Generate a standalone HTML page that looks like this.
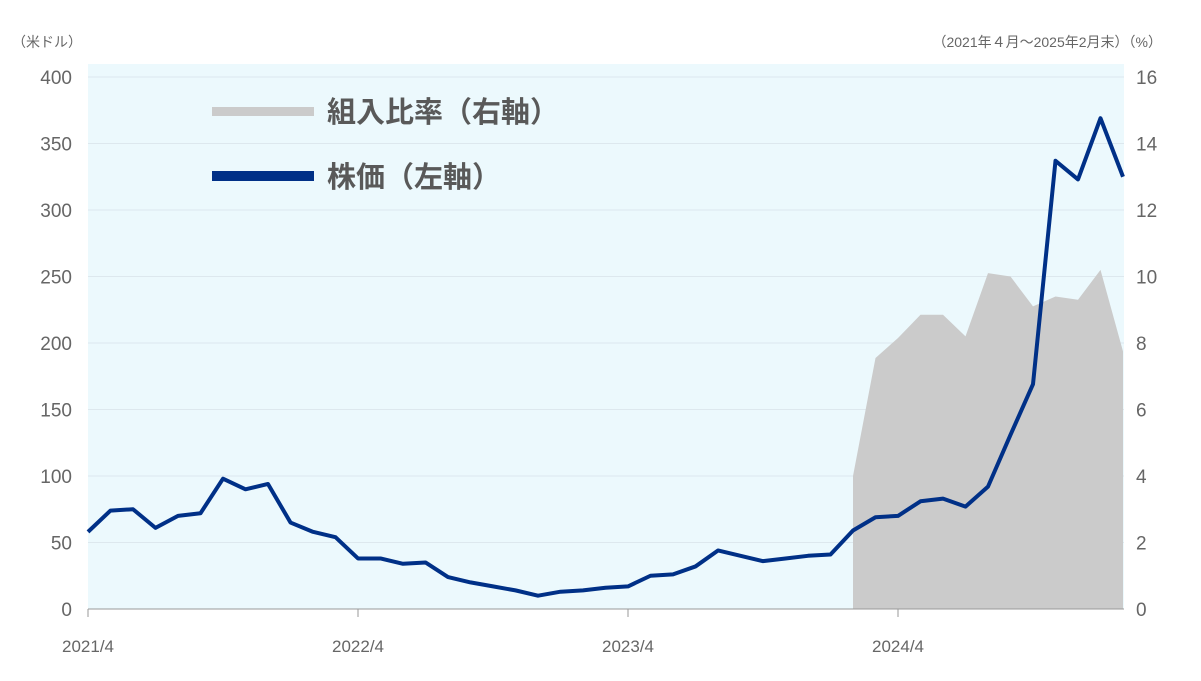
<!DOCTYPE html>
<html><head><meta charset="utf-8">
<style>
html,body{margin:0;padding:0;background:#fff;}
svg{display:block;font-family:"Liberation Sans","Noto Sans CJK JP",sans-serif;}
</style></head>
<body>
<svg id="chart" width="1201" height="681" viewBox="0 0 1201 681" xmlns="http://www.w3.org/2000/svg">
<rect x="88" y="64" width="1036" height="545" fill="#ecf9fd"/>
<g id="grid"></g>
<path id="area" fill="#cbcbcb"/>
<path id="line" fill="none" stroke="#003087" stroke-width="4" stroke-linejoin="round"/>
<line x1="88" y1="609" x2="1124" y2="609" stroke="#999" stroke-width="1"/>
<g id="ticks"></g>
<text x="12" y="47" font-size="14" fill="#666">（米ドル）</text>
<text x="1162" y="47" font-size="14" fill="#666" text-anchor="end">（2021年４月～2025年2月末）（%）</text>
<rect x="212" y="107" width="102" height="9" fill="#cbcbcb"/>
<text x="327" y="122" font-size="29" font-weight="bold" fill="#595959">組入比率（右軸）</text>
<rect x="212" y="171" width="102" height="10" fill="#003087"/>
<text x="327" y="187" font-size="29" font-weight="bold" fill="#595959">株価（左軸）</text>
</svg>
<script>
const prices=[58,74,75,61,70,72,98,90,94,65,58,54,38,38,34,35,24,20,17,14,10,13,14,16,17,25,26,32,44,40,36,38,40,41,59,69,70,81,83,77,92,131,169,337,323,369,325];
const weights=[4.0,7.55,8.15,8.85,8.85,8.2,10.1,10.0,9.1,9.4,9.3,10.2,7.75];
const weightStart=34;
const leftTicks=[0,50,100,150,200,250,300,350,400];
const rightTicks=[0,2,4,6,8,10,12,14,16];
const xLabels=["2021/4","2022/4","2023/4","2024/4"];
const xLabelIdx=[0,12,24,36];
const NS="http://www.w3.org/2000/svg";
const x=i=>88+i*22.5;
const yL=v=>609-v*(532/400);
const yR=v=>609-v*(532/16);
const grid=document.getElementById('grid'),ticks=document.getElementById('ticks');
function mk(tag,attrs,parent){const e=document.createElementNS(NS,tag);for(const k in attrs)e.setAttribute(k,attrs[k]);parent.appendChild(e);return e;}
leftTicks.forEach((v,i)=>{
  const g=mk('line',{x1:88,x2:1124,y1:yL(v),y2:yL(v),stroke:'#dde8ee','stroke-width':1},grid);
  
  
  const t=mk('text',{x:72,y:yL(v)+7,'font-size':19,fill:'#666','text-anchor':'end'},ticks);
  t.textContent=v;
  
  
});
rightTicks.forEach(v=>{
  const t=mk('text',{x:1136,y:yR(v)+7,'font-size':19,fill:'#666'},ticks);
  t.textContent=v;
  
  
});
xLabels.forEach((l,i)=>{
  const tk=mk('line',{x1:x(xLabelIdx[i]),x2:x(xLabelIdx[i]),y1:609,y2:617,stroke:'#999'},ticks);
  
  
  const t=mk('text',{x:x(xLabelIdx[i]),y:652,'font-size':17,fill:'#666','text-anchor':'middle'},ticks);
  t.textContent=l;
  
  
});
let d='M'+x(weightStart)+','+yR(0);
weights.forEach((w,i)=>{d+=' L'+x(weightStart+i)+','+yR(w);});
d+=' L'+x(weightStart+weights.length-1)+','+yR(0)+' Z';
document.getElementById('area').setAttribute('d',d);
document.getElementById('line').setAttribute('d',prices.map((p,i)=>(i?'L':'M')+x(i)+','+yL(p)).join(' '));
</script>
</body></html>
